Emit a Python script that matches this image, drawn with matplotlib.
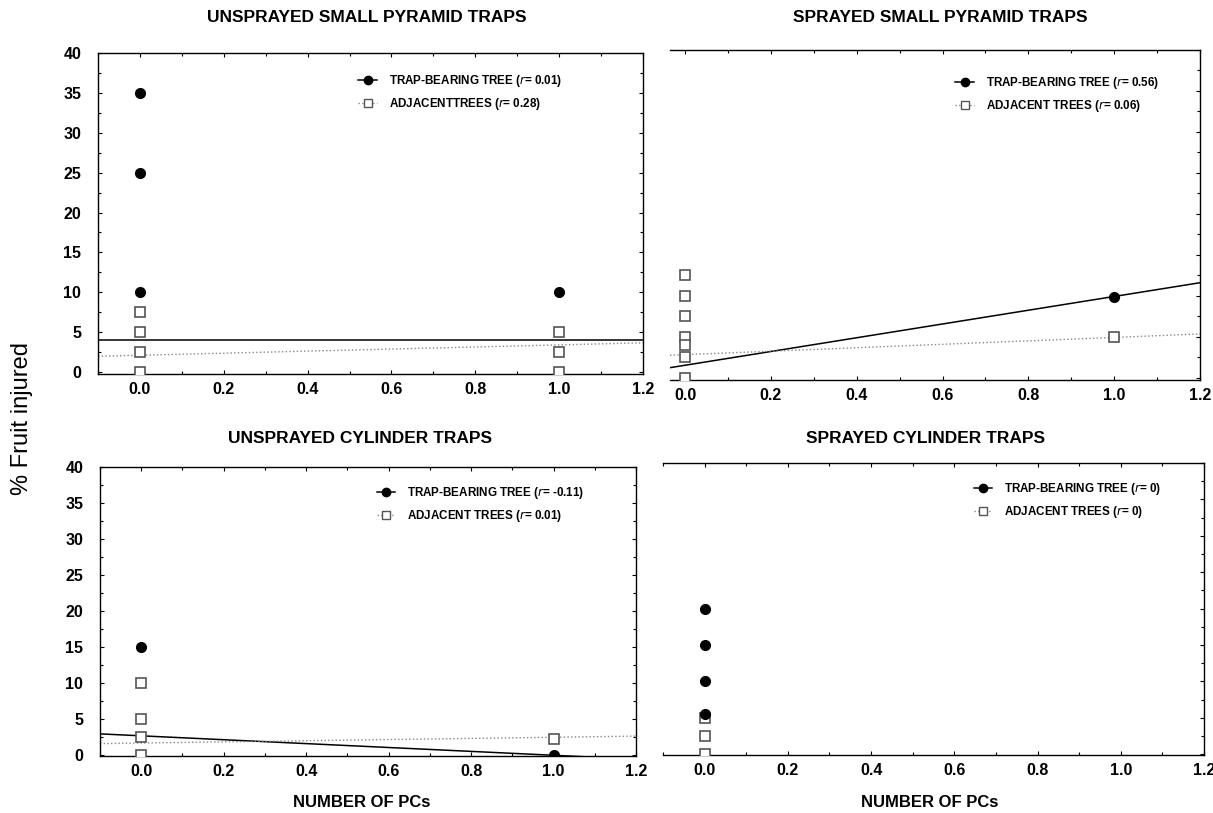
import matplotlib
matplotlib.use("Agg")
from matplotlib import pyplot as plt
from matplotlib.ticker import MultipleLocator
import numpy as np

plt.rcParams['font.family'] = ['Liberation Sans', 'DejaVu Sans']

# unsprayed small pyramid traps
tl_trap_x = [0, 0, 0, 1]
tl_trap_y = [35, 25, 10, 10]
tl_adj_x = [0, 0, 0, 0, 1, 1, 1]
tl_adj_y = [7.5, 5, 2.5, 0, 5, 2.5, 0]
tl_fit_trap = (4.0, 0.0)      # intercept, slope
tl_fit_adj = (2.1, 1.3)

# sprayed small pyramid traps
tr_trap_x = [1]
tr_trap_y = [9.8]
tr_adj_x = [0, 0, 0, 0, 0, 0, 0, 1]
tr_adj_y = [12.5, 10, 7.5, 5, 4, 2.5, 0, 4.9]
tr_fit_trap = (1.5, 8.4)
tr_fit_adj = (2.8, 2.1)

# unsprayed cylinder traps
bl_trap_x = [0, 1]
bl_trap_y = [15, 0]
bl_adj_x = [0, 0, 0, 0, 1]
bl_adj_y = [10, 5, 2.5, 0, 2.3]
bl_fit_trap = (2.7, -2.7)
bl_fit_adj = (1.7, 0.8)

# sprayed cylinder traps
br_trap_x = [0, 0, 0, 0]
br_trap_y = [20, 15, 10, 5.5]
br_adj_x = [0, 0, 0]
br_adj_y = [5, 2.5, 0]

titles = ['UNSPRAYED SMALL PYRAMID TRAPS', 'SPRAYED SMALL PYRAMID TRAPS',
          'UNSPRAYED CYLINDER TRAPS', 'SPRAYED CYLINDER TRAPS']
trap_labels = ['TRAP-BEARING TREE ($r$= 0.01)', 'TRAP-BEARING TREE ($r$= 0.56)',
               'TRAP-BEARING TREE ($r$= -0.11)', 'TRAP-BEARING TREE ($r$= 0)']
adj_labels = ['ADJACENTTREES ($r$= 0.28)', 'ADJACENT TREES ($r$= 0.06)',
              'ADJACENT TREES ($r$= 0.01)', 'ADJACENT TREES ($r$= 0)']

W, H = 1213, 813
fig = plt.figure(figsize=(W / 100, H / 100), dpi=100)


def box(l, r, t, b):
    return [l / W, 1 - b / H, (r - l) / W, (b - t) / H]


axes = [
    fig.add_axes(box(98, 643, 53, 374)),
    fig.add_axes(box(670, 1200, 50, 380)),
    fig.add_axes(box(100, 636, 467, 756)),
    fig.add_axes(box(663, 1204, 463, 755)),
]
xlims = [(-0.1, 1.2), (-0.035, 1.2), (-0.1, 1.2), (-0.1, 1.2)]
ylims = [(-0.25, 40), (-0.3, 40), (-0.1, 40), (-0.1, 40)]
# legend anchor (right edge of text, top of first row), in pixels
leg_anchor = [(562, 73), (1159, 75), (584, 485), (1161, 481)]

panels = [
    (tl_trap_x, tl_trap_y, tl_adj_x, tl_adj_y, tl_fit_trap, tl_fit_adj),
    (tr_trap_x, tr_trap_y, tr_adj_x, tr_adj_y, tr_fit_trap, tr_fit_adj),
    (bl_trap_x, bl_trap_y, bl_adj_x, bl_adj_y, bl_fit_trap, bl_fit_adj),
    (br_trap_x, br_trap_y, br_adj_x, br_adj_y, None, None),
]

narrow = ['Liberation Sans Narrow', 'Liberation Sans']
tick_font = dict(family=narrow, weight='bold', size=11.5)

for i, ax in enumerate(axes):
    tx, ty, ax_x, ax_y, ft, fa = panels[i]
    ax.set_xlim(*xlims[i])
    ax.set_ylim(*ylims[i])
    xs = np.array(xlims[i])
    if ft is not None:
        ax.plot(xs, ft[0] + ft[1] * xs, color='black', lw=1.1, zorder=2)
        ax.plot(xs, fa[0] + fa[1] * xs, color='#888888', lw=1.0, ls=':', zorder=2)
    ax.plot(ax_x, ax_y, ls='none', marker='s', ms=7.5, mfc='white',
            mec='#555555', mew=1.2, zorder=3)
    ax.plot(tx, ty, ls='none', marker='o', ms=7, color='black', zorder=4)

    # legend handles
    h1, = ax.plot([], [], color='black', lw=1.1, marker='o', ms=6)
    h2, = ax.plot([], [], color='#888888', lw=1.0, ls=':', marker='s', ms=6,
                  mfc='white', mec='#555555')
    lx, ly = leg_anchor[i]
    ax.legend([h1, h2], [trap_labels[i], adj_labels[i]], loc='upper right',
              frameon=False, handlelength=1.6, handletextpad=1.0,
              borderpad=0, borderaxespad=0, labelspacing=0.6,
              bbox_to_anchor=(lx / W, 1 - ly / H), bbox_transform=fig.transFigure,
              prop=dict(family=narrow, weight='bold', size=8.4))

    ax.xaxis.set_minor_locator(MultipleLocator(0.1))
    ax.yaxis.set_minor_locator(MultipleLocator(2.5))
    ax.tick_params(which='both', direction='in', top=True, right=True, length=3, width=0.8)
    ax.tick_params(which='minor', length=2)
    ax.tick_params(axis='x', pad=6)
    ax.tick_params(axis='y', pad=12)
    ax.set_xticks([0, 0.2, 0.4, 0.6, 0.8, 1.0, 1.2])
    ax.set_xticklabels(['0.0', '0.2', '0.4', '0.6', '0.8', '1.0', '1.2'], **tick_font)
    if i in (0, 2):
        ax.set_yticks(range(0, 41, 5))
        ax.set_yticklabels([str(v) for v in range(0, 41, 5)], **tick_font)
    else:
        ax.spines['left'].set_visible(False)
        ax.tick_params(axis='y', which='both', left=False, labelleft=False)
    for s in ax.spines.values():
        s.set_linewidth(1.0)

title_pos = [(367, 17), (940, 18), (360, 438), (925, 438)]
for (x, y), t in zip(title_pos, titles):
    fig.text(x / W, 1 - y / H, t, ha='center', va='center',
             family=narrow, weight='bold', size=12.5)

for x in (362, 930):
    fig.text(x / W, 1 - 802 / H, 'NUMBER OF PCs', ha='center', va='center',
             family=narrow, weight='bold', size=12)

fig.text(22 / W, 1 - 418 / H, '% Fruit injured', rotation=90, ha='center', va='center',
         size=17)

fig.savefig('out.png', dpi=100)
